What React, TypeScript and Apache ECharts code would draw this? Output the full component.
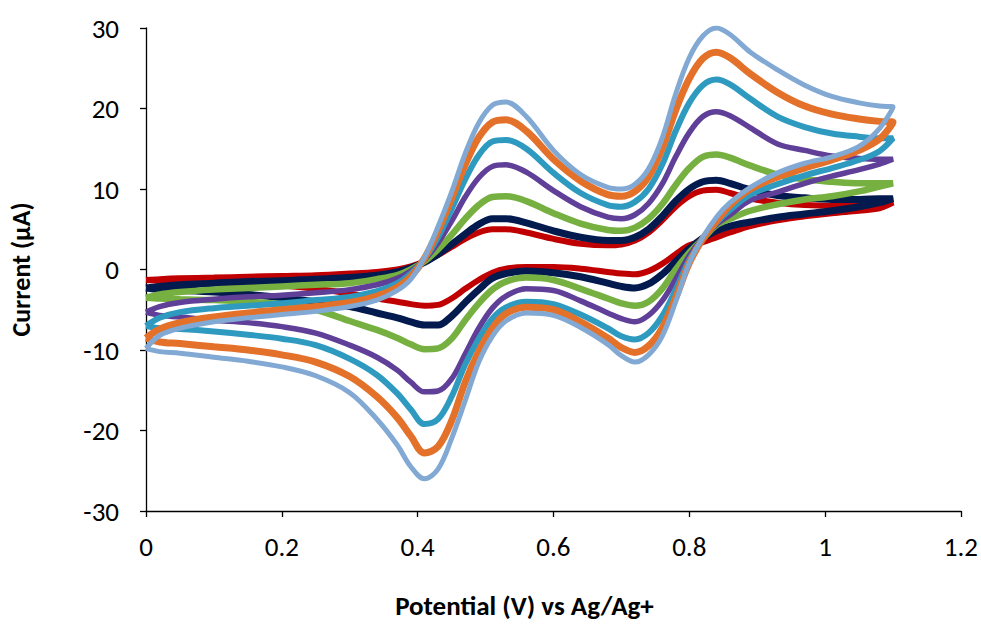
import React, { useEffect, useRef } from "react";
import * as echarts from "echarts";

// Potential grid (V vs Ag/Ag+), shared by forward and reverse scans
const potentials = [
  0, 0.02, 0.05, 0.1, 0.15, 0.2, 0.25, 0.3,
  0.34, 0.37, 0.39, 0.41, 0.43, 0.45, 0.47, 0.49, 0.51, 0.53,
  0.56, 0.6, 0.64, 0.68, 0.7, 0.72, 0.74, 0.76, 0.78, 0.8,
  0.82, 0.84, 0.86, 0.89, 0.93, 0.97, 1.01, 1.05, 1.08, 1.1,
];

// Current (µA), forward (anodic) scan, listed at the potentials above
const redFwd = [
  -1.3, -1.2, -1.1, -1.0, -0.9, -0.8, -0.7, -0.5,
  -0.3, 0.0, 0.4, 1.0, 1.8, 2.8, 3.8, 4.6, 5.0, 5.0,
  4.6, 3.8, 3.2, 3.0, 3.1, 3.6, 4.6, 6.1, 7.8, 9.1,
  9.8, 9.9, 9.5, 8.8, 8.3, 8.0, 7.9, 8.0, 8.2, 8.3,
];
const navyFwd = [
  -2.3, -2.1, -1.9, -1.7, -1.5, -1.4, -1.2, -1.0,
  -0.7, -0.3, 0.2, 0.9, 1.9, 3.1, 4.4, 5.6, 6.3, 6.3,
  5.8, 4.8, 4.0, 3.6, 3.6, 4.0, 5.0, 6.6, 8.5, 10.0,
  10.9, 11.1, 10.7, 9.9, 9.2, 8.9, 8.7, 8.7, 8.8, 8.8,
];
const greenFwd = [
  -3.5, -3.1, -2.8, -2.5, -2.3, -2.1, -1.9, -1.7,
  -1.2, -0.7, 0.0, 1.0, 2.5, 4.3, 6.3, 8.0, 9.0, 9.1,
  8.5, 7.0, 5.7, 4.9, 4.8, 5.2, 6.3, 8.1, 10.5, 12.6,
  14.0, 14.3, 13.9, 12.9, 11.8, 11.2, 10.9, 10.7, 10.7, 10.7,
];
const purpleFwd = [
  -5.3, -4.6, -4.1, -3.7, -3.4, -3.2, -2.9, -2.5,
  -1.9, -1.1, -0.2, 1.2, 3.3, 6.0, 9.0, 11.4, 12.8, 13.0,
  12.1, 9.8, 7.8, 6.5, 6.3, 6.8, 8.2, 10.6, 14.0, 17.0,
  19.0, 19.6, 19.1, 17.6, 15.6, 14.8, 14.1, 13.8, 13.7, 13.7,
];
const tealFwd = [
  -7.0, -6.0, -5.3, -4.8, -4.5, -4.2, -3.8, -3.4,
  -2.7, -1.7, -0.5, 1.3, 4.0, 7.5, 11.2, 14.2, 15.9, 16.1,
  15.0, 12.0, 9.5, 8.0, 7.8, 8.4, 10.0, 13.0, 17.2, 20.7,
  22.9, 23.6, 23.0, 21.2, 19.0, 17.7, 16.9, 16.5, 16.3, 16.3,
];
const orangeFwd = [
  -8.5, -7.4, -6.6, -5.9, -5.4, -5.0, -4.6, -4.1,
  -3.3, -2.2, -0.9, 1.4, 4.8, 8.8, 13.0, 16.4, 18.3, 18.6,
  17.2, 13.7, 11.0, 9.3, 9.1, 9.7, 11.5, 15.0, 19.8, 23.7,
  26.2, 27.0, 26.3, 24.3, 22.0, 20.3, 19.3, 18.7, 18.4, 18.3,
];
const lightBlueFwd = [
  -9.8, -8.2, -7.3, -6.5, -6.0, -5.6, -5.2, -4.6,
  -3.8, -2.6, -1.2, 1.5, 5.3, 9.6, 14.4, 18.2, 20.4, 20.8,
  19.0, 14.8, 11.8, 10.2, 10.0, 10.6, 12.5, 16.3, 21.8, 26.3,
  29.0, 30.0, 29.2, 27.0, 24.8, 22.9, 21.5, 20.7, 20.3, 20.2,
];

// Current (µA), reverse (cathodic) scan, listed at the same potentials
const redRev = [
  -1.3, -1.4, -1.5, -1.6, -1.8, -2.0, -2.4, -3.0,
  -3.6, -4.0, -4.3, -4.5, -4.4, -3.6, -2.4, -1.3, -0.4, 0.1,
  0.3, 0.3, 0.1, -0.3, -0.5, -0.6, -0.2, 0.7, 1.9, 3.0,
  3.4, 4.0, 4.6, 5.4, 6.1, 6.6, 7.0, 7.3, 7.6, 8.3,
];
const navyRev = [
  -2.3, -2.5, -2.6, -2.8, -3.1, -3.5, -4.0, -4.6,
  -5.4, -6.0, -6.5, -6.9, -6.9, -5.8, -4.1, -2.5, -1.1, -0.5,
  -0.2, -0.4, -0.9, -1.7, -2.1, -2.3, -1.8, -0.6, 1.0, 2.6,
  3.9, 4.8, 5.4, 5.9, 6.5, 6.9, 7.3, 7.8, 8.3, 8.8,
];
const greenRev = [
  -3.5, -3.6, -3.7, -3.8, -4.0, -4.3, -5.0, -6.4,
  -7.5, -8.5, -9.3, -9.9, -9.8, -8.6, -6.3, -4.2, -2.5, -1.5,
  -1.0, -1.3, -2.4, -3.6, -4.2, -4.5, -4.0, -2.4, 0.0, 2.1,
  3.8, 5.5, 6.3, 7.3, 8.1, 8.7, 9.1, 9.7, 10.3, 10.7,
];
const purpleRev = [
  -5.3, -5.7, -5.9, -6.3, -6.6, -7.1, -7.9, -9.4,
  -10.9, -12.5, -14.0, -15.2, -15.1, -13.6, -10.5, -7.3, -4.8, -3.3,
  -2.4, -2.6, -3.9, -5.4, -6.1, -6.5, -5.7, -3.9, -1.2, 1.7,
  3.9, 5.6, 6.8, 8.6, 9.6, 10.7, 11.6, 12.4, 13.1, 13.7,
];
const tealRev = [
  -7.0, -7.3, -7.4, -7.7, -8.1, -8.6, -9.4, -11.1,
  -13.1, -15.4, -17.4, -19.2, -18.6, -15.8, -11.8, -8.6, -6.1, -4.7,
  -4.0, -4.3, -5.6, -7.3, -8.3, -8.7, -7.9, -5.8, -2.5, 1.2,
  3.8, 5.8, 7.4, 9.3, 10.6, 11.7, 12.6, 13.6, 14.7, 16.3,
];
const orangeRev = [
  -8.5, -9.0, -9.2, -9.6, -10.0, -10.6, -11.5, -13.3,
  -15.8, -18.4, -20.7, -22.8, -22.0, -18.8, -14.0, -10.2, -7.3, -5.5,
  -4.7, -5.0, -6.5, -8.5, -9.7, -10.3, -9.5, -7.3, -3.5, 0.8,
  3.8, 6.0, 8.0, 10.0, 11.5, 12.6, 13.6, 14.8, 16.2, 18.3,
];
const lightBlueRev = [
  -9.8, -10.2, -10.4, -10.9, -11.4, -12.1, -13.2, -15.3,
  -18.6, -21.8, -24.5, -26.0, -24.8, -21.0, -16.3, -11.5, -8.3, -6.4,
  -5.4, -5.7, -7.2, -9.3, -10.7, -11.5, -10.6, -8.3, -4.0, 0.8,
  4.0, 6.5, 8.3, 10.2, 12.0, 13.2, 14.0, 15.3, 17.5, 20.2,
];

const xTicks = { min: 0, max: 1.2, interval: 0.2 };
const yTicks = { min: -30, max: 30, interval: 10 };

const seriesDefs = [
  { name: "s1", fwd: redFwd, rev: redRev, color: "#C00000", width: 6 },
  { name: "s2", fwd: navyFwd, rev: navyRev, color: "#031A4E", width: 7 },
  { name: "s3", fwd: greenFwd, rev: greenRev, color: "#76B041", width: 6.5 },
  { name: "s4", fwd: purpleFwd, rev: purpleRev, color: "#5F3F98", width: 5.5 },
  { name: "s5", fwd: tealFwd, rev: tealRev, color: "#2E9AC0", width: 6 },
  { name: "s6", fwd: orangeFwd, rev: orangeRev, color: "#E3712A", width: 7 },
  { name: "s7", fwd: lightBlueFwd, rev: lightBlueRev, color: "#82A9D3", width: 5 },
];

function buildLoop(fwd: number[], rev: number[]): number[][] {
  const forward = potentials.map((e, i) => [e, fwd[i]]);
  const backward = potentials.map((e, i) => [e, rev[i]]).reverse().slice(1);
  return [...forward, ...backward];
}

const FONT = "Carlito, Lato, 'Liberation Sans', sans-serif";

export default function App() {
  const ref = useRef<HTMLDivElement>(null);
  useEffect(() => {
    if (!ref.current) return;
    const chart = echarts.init(ref.current, undefined, { renderer: "svg" });
    chart.setOption({
      animation: false,
      backgroundColor: "#ffffff",
      grid: { left: 145, right: 20, top: 28, bottom: 112 },
      xAxis: {
        type: "value",
        ...xTicks,
        name: "Potential (V) vs Ag/Ag+",
        nameLocation: "middle",
        nameGap: 81,
        nameTextStyle: { fontFamily: FONT, fontSize: 27, fontWeight: "bold", color: "#000", padding: [0, 58, 0, 0] },
        axisLine: { onZero: false, lineStyle: { color: "#000", width: 1.3 } },
        axisTick: { show: true, length: 6, lineStyle: { color: "#000", width: 1.3 } },
        axisLabel: { fontFamily: FONT, fontSize: 27, color: "#000", margin: 22 },
        splitLine: { show: false },
      },
      yAxis: {
        type: "value",
        ...yTicks,
        name: "Current (µA)",
        nameLocation: "middle",
        nameGap: 112,
        nameRotate: 90,
        nameTextStyle: { fontFamily: FONT, fontSize: 26, fontWeight: "bold", color: "#000" },
        axisLine: { show: true, onZero: false, lineStyle: { color: "#000", width: 1.3 } },
        axisTick: { show: true, length: 6, lineStyle: { color: "#000", width: 1.3 } },
        axisLabel: { fontFamily: FONT, fontSize: 27, color: "#000", margin: 27 },
        splitLine: { show: false },
      },
      series: seriesDefs.map((s) => ({
        name: s.name,
        type: "line",
        data: buildLoop(s.fwd, s.rev),
        smooth: 0.35,
        showSymbol: false,
        symbol: "none",
        lineStyle: { color: s.color, width: s.width },
        itemStyle: { color: s.color },
      })),
    });
    return () => chart.dispose();
  }, []);
  return (
    <div
      ref={ref}
      style={{ position: "fixed", left: 0, top: 0, width: 981, height: 624, background: "#fff" }}
    />
  );
}
